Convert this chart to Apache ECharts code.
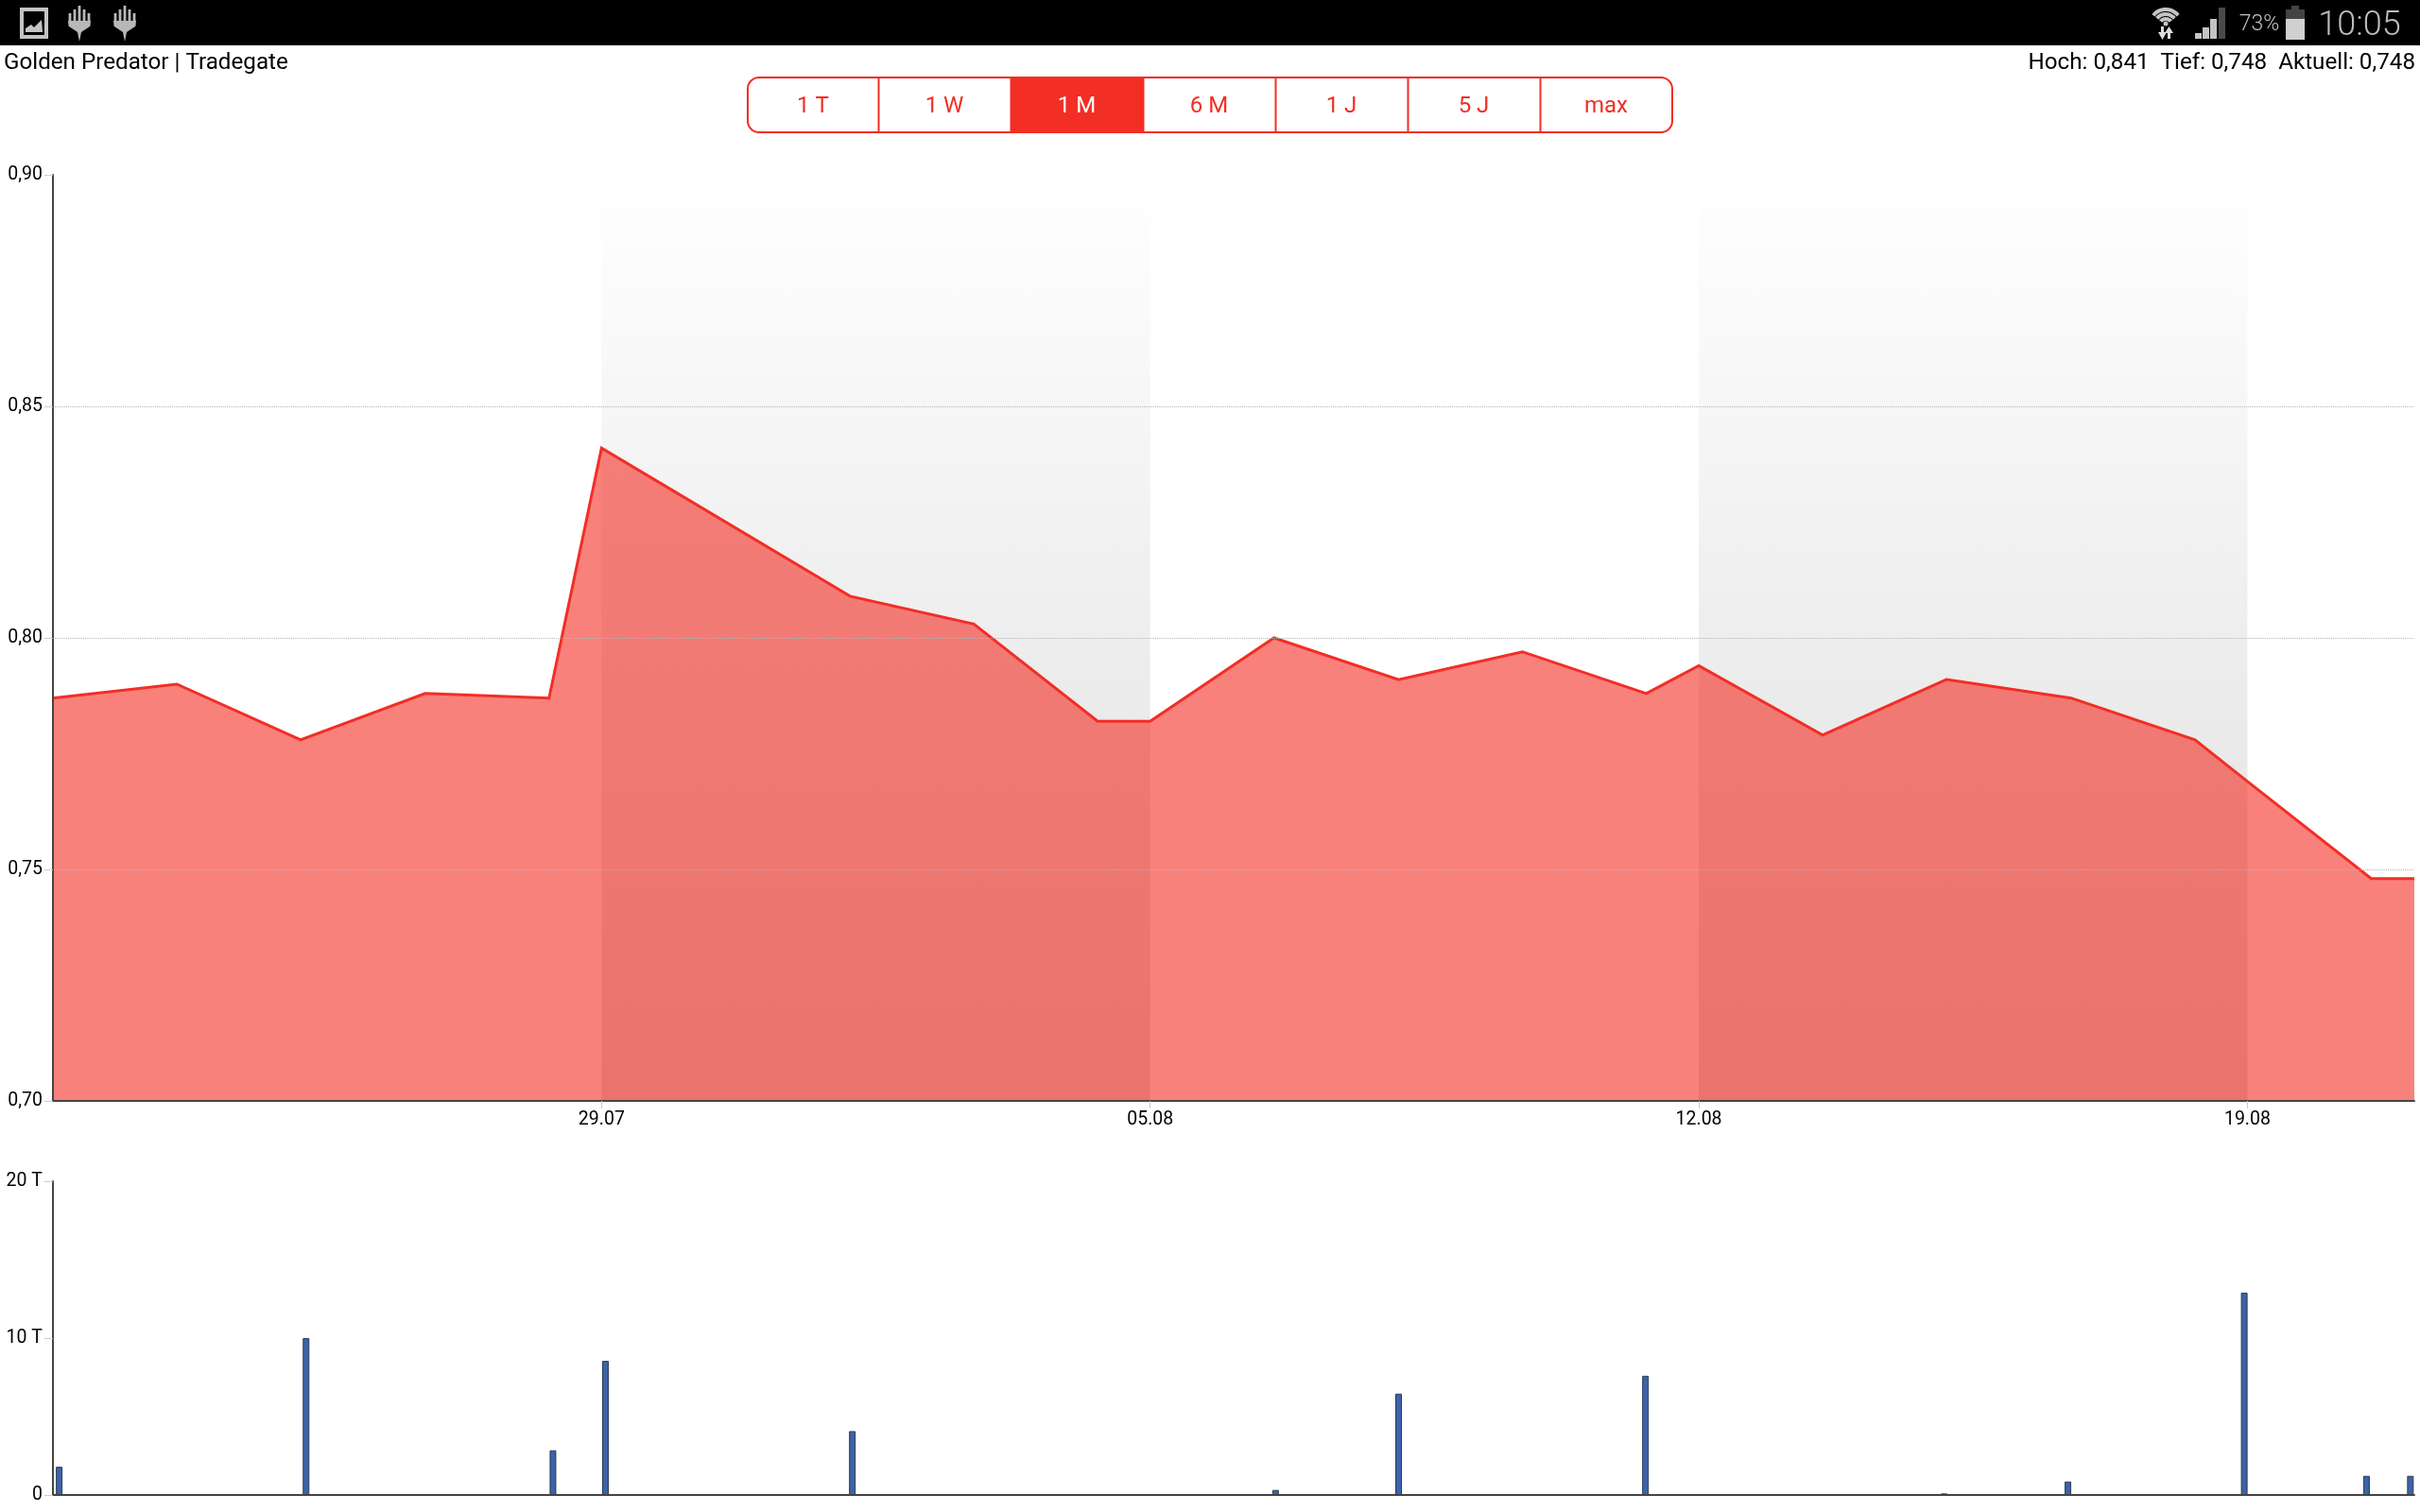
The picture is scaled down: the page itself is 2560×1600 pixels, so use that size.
<!DOCTYPE html>
<html><head><meta charset="utf-8">
<style>html,body{margin:0;padding:0;background:#fff}#c{width:2560px;height:1600px}</style>
<script src="https://cdn.jsdelivr.net/npm/echarts@6/dist/echarts.min.js"></script>
</head><body><div id="c"></div>
<script>
// x values are days counted from 22.07 (the left end of the axis)
const priceDays = [0,1.58,3.16,4.75,6.33,7,10.17,11.75,13.33,14,15.58,17.17,18.75,20.33,21,22.58,24.16,25.75,27.33,28,29.58,30.13];
const priceValues = [0.787,0.790,0.778,0.788,0.787,0.841,0.809,0.803,0.782,0.782,0.800,0.791,0.797,0.788,0.794,0.779,0.791,0.787,0.778,0.769,0.748,0.748];
const volumeDays = [0.08,3.23,6.38,7.05,10.2,15.6,17.17,20.32,24.13,25.71,27.96,29.52,30.08];
const volumeValues = [1.8,10,2.85,8.55,4.07,0.32,6.46,7.6,0.1,0.86,12.9,1.22,1.22];
const tickDays = [7,14,21,28];
const tickLabels = ['29.07','05.08','12.08','19.08'];
const bandRanges = [[7,14],[21,28]];
const rangeButtons = ['1 T','1 W','1 M','6 M','1 J','5 J','max'];
const activeButton = '1 M';
const titleText = 'Golden Predator | Tradegate';
const statsText = 'Hoch: 0,841  Tief: 0,748  Aktuell: 0,748';

const FONT = 'Roboto';
const RED = '#f22e25';
const GREY = '#c4c4c4';
const chart = echarts.init(document.getElementById('c'), null, {renderer:'canvas'});

// ---- page chrome
const g = [];
g.push({type:'rect',shape:{x:0,y:0,width:2560,height:48},style:{fill:'#000'},silent:true});
// picture icon
g.push({type:'rect',shape:{x:23,y:10,width:26,height:29},style:{fill:'none',stroke:GREY,lineWidth:4}});
g.push({type:'polygon',shape:{points:[[27,34],[27,30],[33,26],[36,29],[44,21],[45,34]]},style:{fill:GREY}});
// hand icons
function hand(x0){
  const c='#b8b8b8';
  [[2,14],[7,10],[12,6],[17,10],[22,14]].forEach(p=>{
    g.push({type:'line',shape:{x1:x0+p[0],y1:p[1],x2:x0+p[0],y2:28},style:{stroke:c,lineWidth:2.8}});
  });
  g.push({type:'polygon',shape:{points:[[x0,22],[x0+24,22],[x0+23,28],[x0+14,34],[x0+12,44],[x0+10,34],[x0+1,28]]},style:{fill:c}});
}
hand(72); hand(120);
// wifi
const WF='#c4c4c4';
[[17,4],[12,4],[7,4]].forEach(a=>{
  g.push({type:'arc',shape:{cx:2291,cy:27,r:a[0],startAngle:-Math.PI*0.78,endAngle:-Math.PI*0.22},style:{stroke:WF,lineWidth:a[1],fill:'none'}});
});
g.push({type:'circle',shape:{cx:2291,cy:25,r:2.5},style:{fill:WF}});
g.push({type:'polygon',shape:{points:[[2283,34],[2286,34],[2286,28],[2289,28],[2289,34],[2292,34],[2287.5,42]]},style:{fill:'#ddd'}});
g.push({type:'polygon',shape:{points:[[2290,35],[2294.5,28],[2299,35],[2296,35],[2296,41],[2293,41],[2293,35]]},style:{fill:'#ddd'}});
// signal bars
[[2322,35,'#c4c4c4'],[2330,29,'#c4c4c4'],[2338,20,'#c4c4c4'],[2347,8,'#4a4a4a']].forEach(b=>{
  g.push({type:'rect',shape:{x:b[0],y:b[1],width:7,height:41-b[1]},style:{fill:b[2]}});
});
// percent
g.push({type:'text',style:{x:2390,y:26,text:'73%',fill:'#c0c0c0',font:'300 23px '+FONT,align:'center',verticalAlign:'middle'}});
// battery
g.push({type:'rect',shape:{x:2424,y:6,width:8,height:4},style:{fill:'#444'}});
g.push({type:'rect',shape:{x:2418,y:10,width:20,height:10},style:{fill:'#444'}});
g.push({type:'rect',shape:{x:2418,y:20,width:20,height:22},style:{fill:'#d0d0d0'}});
g.push({type:'text',style:{x:2496,y:28,text:'10:05',fill:'#bcbcbc',font:'300 36px '+FONT,align:'center',verticalAlign:'middle'}});
// titles
g.push({type:'text',style:{x:4,y:67,text:titleText,fill:'#000',font:'24.2px '+FONT,align:'left',verticalAlign:'middle'}});
g.push({type:'text',style:{x:2555,y:67,text:statsText,fill:'#000',font:'24.2px '+FONT,align:'right',verticalAlign:'middle'}});
// button bar
const edge=i=>i===0?791:929+140*(i-1), by=82, bh=58;
rangeButtons.forEach((t,i)=>{
  const x=edge(i), w=edge(i+1)-x, act=t===activeButton;
  if(act) g.push({type:'rect',shape:{x:x,y:by,width:w,height:bh},style:{fill:RED}});
  if(i>0) g.push({type:'line',shape:{x1:x+.5,y1:by,x2:x+.5,y2:by+bh},style:{stroke:RED,lineWidth:2}});
  g.push({type:'text',z:5,style:{x:x+w/2,y:by+bh/2+2,text:t,fill:act?'#fff':RED,font:'24px '+FONT,align:'center',verticalAlign:'middle'}});
});
g.push({type:'rect',z:4,shape:{x:791,y:by,width:978,height:bh,r:12},style:{fill:'none',stroke:RED,lineWidth:2}});

const axisText = {color:'#000',fontFamily:FONT,fontSize:19.5};
const option = {
  animation:false,
  backgroundColor:'#fff',
  graphic:{elements:g},
  grid:[
    {left:56,right:6,top:185,bottom:435,containLabel:false},
    {left:56,right:6,top:1250,bottom:18,containLabel:false}
  ],
  xAxis:[
    {type:'value',gridIndex:0,min:0,max:30.13,z:10,splitLine:{show:false},
     axisLine:{show:true,onZero:false,lineStyle:{color:'#444',width:2}},
     axisTick:{show:true,customValues:tickDays,length:8,lineStyle:{color:'#ccc',width:1}},
     axisLabel:{show:true,customValues:tickDays,margin:10,...axisText,
       formatter:v=>tickLabels[tickDays.indexOf(v)]||''}},
    {type:'value',gridIndex:1,min:0,max:30.13,z:10,splitLine:{show:false},
     axisLine:{show:true,onZero:false,lineStyle:{color:'#444',width:2}},
     axisTick:{show:false},axisLabel:{show:false}}
  ],
  yAxis:[
    {type:'value',gridIndex:0,min:0.7,max:0.9,interval:0.05,z:10,
     axisLine:{show:true,onZero:false,lineStyle:{color:'#444',width:2}},
     axisTick:{show:true,length:9,lineStyle:{color:'#ccc',width:1}},
     splitLine:{show:true,showMaxLine:false,showMinLine:false,lineStyle:{color:'#b4b4b4',width:1,type:[1,1]}},
     axisLabel:{margin:11,padding:[5,0,0,0],...axisText,formatter:v=>v.toFixed(2).replace('.',',')}},
    {type:'value',gridIndex:1,min:0,max:20,interval:10,z:10,
     axisLine:{show:true,onZero:false,lineStyle:{color:'#444',width:2}},
     axisTick:{show:true,length:9,lineStyle:{color:'#ccc',width:1}},
     splitLine:{show:false},
     axisLabel:{margin:11,padding:[5,0,0,0],...axisText,formatter:v=>v===0?'0':v+' T'}}
  ],
  series:[
    {name:'bands',type:'line',xAxisIndex:0,yAxisIndex:0,z:1,data:[],silent:true,
     markArea:{silent:true,z:1,itemStyle:{opacity:1,color:new echarts.graphic.LinearGradient(0,0,0,1,[
        {offset:0,color:'#fefefe'},{offset:1,color:'#dcdcdc'}])},
       data:bandRanges.map(r=>[{xAxis:r[0],yAxis:0.8938},{xAxis:r[1],yAxis:0.7}])}},
    {name:'Kurs',type:'line',xAxisIndex:0,yAxisIndex:0,z:3,symbol:'none',smooth:false,
     lineStyle:{color:RED,width:3,join:'miter'},
     areaStyle:{color:'rgba(243,45,36,0.6)',opacity:1,origin:'start'},
     data:priceDays.map((d,i)=>[d,priceValues[i]])},
    {name:'Volumen',type:'bar',xAxisIndex:1,yAxisIndex:1,barWidth:7,z:3,
     itemStyle:{color:'#3c63a8',borderColor:'#2b3a55',borderWidth:1},
     data:volumeDays.map((d,i)=>[d,volumeValues[i]])}
  ]
};
chart.setOption(option);
</script></body></html>
